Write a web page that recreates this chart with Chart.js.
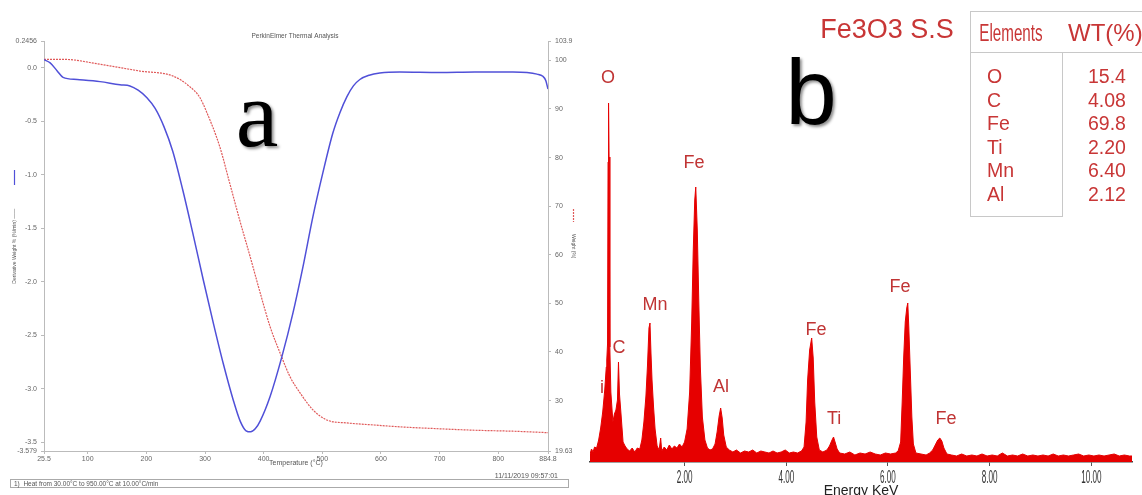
<!DOCTYPE html>
<html><head><meta charset="utf-8">
<script src="https://cdn.jsdelivr.net/npm/chart.js@4.4.1/dist/chart.umd.min.js"></script>
<style>
html,body{margin:0;padding:0;background:#fff;}
body{width:1142px;height:495px;position:relative;overflow:hidden;font-family:'Liberation Sans',Arial,sans-serif;}
#wa{position:absolute;left:0;top:0;width:590px;height:495px;}
#wb{position:absolute;left:585px;top:0;width:557px;height:495px;}
.abs{position:absolute;white-space:nowrap;}
.red{color:#c83636;}
</style></head><body>
<div id="wa"><canvas id="ca" width="590" height="495" style="width:590px;height:495px"></canvas></div>
<div id="wb"><canvas id="cb" width="557" height="495" style="width:557px;height:495px"></canvas></div>
<div class="abs" style="left:10px;top:479px;width:557px;height:7px;border:1px solid #aaa;font-size:6.5px;line-height:7px;color:#555;"><span style="padding-left:3px">1)&nbsp; Heat from 30.00°C to 950.00°C at 10.00°C/min</span></div>
<div class="abs" style="left:458px;top:472px;width:100px;text-align:right;font-size:7px;line-height:8px;color:#555;">11/11/2019 09:57:01</div>
<div id="tbl"></div>
<script>
// ---------- Panel a : TGA / DTG ----------
const dtgTemp = [25.5, 36, 48, 58, 82, 121, 155, 172, 186, 201, 215, 230, 245, 262, 279, 297, 314, 331, 348, 360, 370, 378, 386, 394, 411, 431, 450, 467, 484, 501, 518, 530, 542, 553, 564, 580, 598, 632, 700, 760, 825, 849, 866, 876, 881, 884.8];
const dtgDeriv = [0.075, 0.045, -0.03, -0.09, -0.11, -0.13, -0.16, -0.17, -0.21, -0.28, -0.38, -0.55, -0.78, -1.14, -1.54, -1.98, -2.38, -2.76, -3.10, -3.30, -3.39, -3.40, -3.37, -3.30, -3.07, -2.70, -2.29, -1.86, -1.39, -0.98, -0.61, -0.42, -0.27, -0.17, -0.11, -0.07, -0.05, -0.04, -0.045, -0.04, -0.04, -0.045, -0.06, -0.08, -0.12, -0.20];
const tgaTemp = [25.5, 60, 121, 189, 245, 274, 291, 303, 325, 342, 359, 377, 394, 411, 428, 445, 462, 484, 508, 542, 586, 632, 700, 760, 825, 884.8];
const tgaWeight = [100.2, 100.2, 99.2, 97.8, 96.8, 94.6, 92.4, 89.3, 82.3, 74.8, 67.2, 59.6, 52.2, 45.2, 39.8, 34.9, 31.6, 28.1, 26.0, 25.4, 25.0, 24.6, 24.2, 23.9, 23.7, 23.4];
const tempTicks = [25.5, 100, 200, 300, 400, 500, 600, 700, 800, 884.8];
const tempTickLabels = ['25.5','100','200','300','400','500','600','700','800','884.8'];
const derivTicks = [0.2456, 0, -0.5, -1, -1.5, -2, -2.5, -3, -3.5, -3.579];
const derivTickLabels = ['0.2456','0.0','-0.5','-1.0','-1.5','-2.0','-2.5','-3.0','-3.5','-3.579'];
const weightTicks = [103.9, 100, 90, 80, 70, 60, 50, 40, 30, 19.63];
const weightTickLabels = ['103.9','100','90','80','70','60','50','40','30','19.63'];

// ---------- Panel b : EDS ----------
const edsEnergy = [
 0.14,0.17,0.20,0.23,0.27,0.31,0.35,0.39,0.43,0.46,
 0.47,0.485,0.495,0.505,0.515,0.53,0.55,0.59,0.62,0.65,
 0.68,0.70,0.72,0.75,0.79,0.83,0.87,0.92,0.97,1.02,
 1.07,1.12,1.16,1.20,1.24,1.27,1.30,1.32,1.34,1.36,
 1.39,1.42,1.46,1.50,1.53,1.55,1.60,1.65,1.70,1.75,
 1.80,1.85,1.90,1.95,2.00,2.05,2.10,2.14,2.17,2.20,
 2.22,2.25,2.28,2.31,2.35,2.40,2.45,2.50,2.55,2.60,
 2.64,2.68,2.71,2.74,2.77,2.82,2.88,2.95,3.02,3.10,
 3.18,3.26,3.34,3.42,3.50,3.58,3.66,3.74,3.82,3.90,
 3.98,4.06,4.14,4.22,4.30,4.35,4.39,4.42,4.46,4.50,
 4.53,4.56,4.60,4.65,4.72,4.80,4.85,4.90,4.93,4.96,
 5.00,5.05,5.15,5.25,5.35,5.45,5.55,5.65,5.75,5.85,
 5.95,6.05,6.15,6.20,6.25,6.28,6.31,6.34,6.37,6.39,
 6.41,6.44,6.47,6.50,6.55,6.65,6.75,6.82,6.88,6.93,
 6.98,7.02,7.06,7.10,7.16,7.25,7.35,7.45,7.55,7.65,
 7.75,7.85,7.95,8.05,8.15,8.25,8.35,8.45,8.55,8.65,
 8.75,8.85,8.95,9.05,9.15,9.25,9.35,9.45,9.55,9.65,
 9.75,9.85,9.95,10.05,10.15,10.25,10.35,10.45,10.55,10.65,
 10.75,10.8];
const edsCounts = [
 8,13,10,15,14,22,34,50,72,95,
 102,118,300,359,305,115,70,40,48,52,
 62,100,68,48,20,16,13,11,14,10,
 14,13,22,40,66,96,134,139,108,82,
 55,33,16,12,24,11,15,12,17,13,
 16,14,18,15,20,33,70,140,210,262,
 275,232,160,95,45,22,14,12,13,18,
 30,46,54,44,27,15,12,10,12,9,
 11,10,12,9,11,10,9,11,9,10,
 12,9,10,9,11,15,40,82,112,124,
 104,60,25,12,10,12,16,22,25,20,
 13,9,8,10,7,9,8,10,8,7,
 9,8,9,11,20,60,105,140,154,159,
 135,90,45,18,9,8,7,9,12,17,
 22,24,21,14,8,7,6,8,6,7,
 6,8,6,7,6,9,6,7,6,8,
 6,7,6,7,6,8,6,7,6,7,
 8,6,7,6,7,6,7,8,6,7,
 6,6];
const energyTicks = [2, 4, 6, 8, 10];
const energyTickLabels = ['2.00','4.00','6.00','8.00','10.00'];
const peakNames = ['i','O','C','Mn','Fe','Al','Fe','Ti','Fe','Fe'];
const peakLabelEnergy = [0.376, 0.494, 0.71, 1.42, 2.186, 2.717, 4.585, 4.94, 6.237, 7.14];
const peakLabelLevel = [74, 384, 114, 157, 299, 75, 132, 43, 175, 43];
const tableElements = ['O','C','Fe','Ti','Mn','Al'];
const tableWt = ['15.4','4.08','69.8','2.20','6.40','2.12'];

const SANS = "'Liberation Sans', Arial, sans-serif";
const small = {family: SANS, size: 7};

// ----- chart a -----
const panelAExtras = {
  id: 'panelAExtras',
  afterDraw(chart) {
    const ctx = chart.ctx;
    ctx.save();
    ctx.strokeStyle = '#5050d8'; ctx.lineWidth = 1.2;
    ctx.beginPath(); ctx.moveTo(14.5, 170); ctx.lineTo(14.5, 185); ctx.stroke();
    ctx.strokeStyle = '#e05a5a'; ctx.setLineDash([2, 1]);
    ctx.beginPath(); ctx.moveTo(573.5, 209); ctx.lineTo(573.5, 222); ctx.stroke();
    ctx.setLineDash([]);
    ctx.font = "96px 'Liberation Serif', 'DejaVu Serif', serif";
    ctx.textAlign = 'center'; ctx.textBaseline = 'alphabetic';
    ctx.shadowColor = 'rgba(0,0,0,0.45)'; ctx.shadowOffsetX = 2; ctx.shadowOffsetY = 2; ctx.shadowBlur = 3;
    ctx.fillStyle = '#000';
    ctx.fillText('a', 257, 146);
    ctx.restore();
  }
};

new Chart(document.getElementById('ca'), {
  type: 'line',
  data: { datasets: [
    { label: 'Derivative Weight % (%/min)', data: dtgTemp.map((t, i) => ({x: t, y: dtgDeriv[i]})),
      xAxisID: 'x', yAxisID: 'y', borderColor: '#5050d8', borderWidth: 1.5, pointRadius: 0,
      cubicInterpolationMode: 'monotone', fill: false },
    { label: 'Weight (%)', data: tgaTemp.map((t, i) => ({x: t, y: tgaWeight[i]})),
      xAxisID: 'x', yAxisID: 'y1', borderColor: '#e05a5a', borderWidth: 1.2, borderDash: [2, 1], pointRadius: 0,
      cubicInterpolationMode: 'monotone', fill: false }
  ]},
  options: {
    responsive: false, animation: false,
    layout: { padding: {top: 0, left: 0, right: 0, bottom: 0} },
    plugins: {
      legend: {display: false}, tooltip: {enabled: false},
      title: { display: true, text: 'PerkinElmer Thermal Analysis', color: '#555',
        font: {family: SANS, size: 6.5, weight: 'normal'}, padding: {top: 32, bottom: 1.6} }
    },
    scales: {
      x: { type: 'linear', position: 'bottom', min: 25.5, max: 884.8,
        afterBuildTicks: s => { s.ticks = tempTicks.map(v => ({value: v})); },
        afterFit: s => { s.height = 44; },
        ticks: { autoSkip: false, maxRotation: 0, padding: 1, font: small, color: '#666',
          callback: (v, i) => tempTickLabels[i] },
        grid: { drawOnChartArea: false, tickLength: 3, color: '#bbb' },
        border: { color: '#bbb' },
        title: { display: true, text: 'Temperature (°C)', font: small, color: '#555', padding: {top: 0, bottom: 27.8} } },
      y: { type: 'linear', position: 'left', min: -3.579, max: 0.2456,
        afterBuildTicks: s => { s.ticks = derivTicks.map(v => ({value: v})); },
        afterFit: s => { s.width = 44; },
        ticks: { autoSkip: false, padding: 4, font: small, color: '#666',
          callback: (v, i) => derivTickLabels[i] },
        grid: { drawOnChartArea: false, tickLength: 3, color: '#bbb' },
        border: { color: '#bbb' },
        title: { display: true, text: 'Derivative Weight % (%/min) ——', font: {family: SANS, size: 5}, color: '#555', padding: {top: 12, bottom: 0} } },
      y1: { type: 'linear', position: 'right', min: 19.63, max: 103.9,
        afterBuildTicks: s => { s.ticks = weightTicks.map(v => ({value: v})); },
        afterFit: s => { s.width = 42; },
        ticks: { autoSkip: false, padding: 4, font: small, color: '#666',
          callback: (v, i) => weightTickLabels[i] },
        grid: { drawOnChartArea: false, tickLength: 3, color: '#bbb' },
        border: { color: '#bbb' },
        title: { display: true, text: 'Weight (%)', font: {family: SANS, size: 5}, color: '#555', padding: {top: 14, bottom: 0} } }
    }
  },
  plugins: [panelAExtras]
});

// ----- chart b -----
const panelBExtras = {
  id: 'panelBExtras',
  afterDraw(chart) {
    const ctx = chart.ctx, xs = chart.scales.x, ys = chart.scales.y;
    ctx.save();
    // condensed tick labels
    ctx.fillStyle = '#333'; ctx.textAlign = 'center'; ctx.textBaseline = 'middle';
    ctx.font = "18px " + SANS;
    energyTicks.forEach((v, i) => {
      ctx.save(); ctx.translate(xs.getPixelForValue(v), 478); ctx.scale(0.45, 1);
      ctx.fillText(energyTickLabels[i], 0, 0); ctx.restore();
    });
    // peak labels
    ctx.fillStyle = '#c03434'; ctx.font = "18px " + SANS;
    peakNames.forEach((n, i) => {
      ctx.fillText(n, xs.getPixelForValue(peakLabelEnergy[i]), ys.getPixelForValue(peakLabelLevel[i]));
    });
    // sample name
    ctx.fillStyle = '#c83636'; ctx.font = "27px " + SANS;
    ctx.fillText('Fe3O3 S.S', 302, 31);
    // panel letter
    ctx.fillStyle = '#000'; ctx.font = "92px " + SANS; ctx.textBaseline = 'alphabetic';
    ctx.shadowColor = 'rgba(0,0,0,0.45)'; ctx.shadowOffsetX = 2; ctx.shadowOffsetY = 2; ctx.shadowBlur = 3;
    ctx.fillText('b', 226, 124);
    ctx.restore();
  }
};

new Chart(document.getElementById('cb'), {
  type: 'line',
  data: { datasets: [{ label: 'Fe3O3 S.S', data: edsEnergy.map((e, i) => ({x: e, y: edsCounts[i]})),
    borderColor: '#e60000', backgroundColor: '#e60000', borderWidth: 1, pointRadius: 0, fill: 'origin', tension: 0 }] },
  options: {
    responsive: false, animation: false,
    layout: { padding: {left: 5, right: 10, top: 62, bottom: 0} },
    plugins: { legend: {display: false}, tooltip: {enabled: false} },
    scales: {
      x: { type: 'linear', min: 0.14, max: 10.8,
        afterBuildTicks: s => { s.ticks = energyTicks.map(v => ({value: v})); },
        afterFit: s => { s.height = 33; },
        ticks: { display: false },
        grid: { drawOnChartArea: false, tickLength: 4, color: '#555' },
        border: { color: '#444', width: 1.5 },
        title: { display: true, text: 'Energy KeV', font: {family: SANS, size: 14}, color: '#222', padding: {top: 0, bottom: -5} } },
      y: { display: false, min: 0, max: 400 }
    }
  },
  plugins: [panelBExtras]
});

// ----- table -----
(function(){
  const t = document.getElementById('tbl');
  let h = '';
  h += '<div class="abs" style="left:970px;top:11px;width:190px;height:40px;border:1px solid #c8c8c8;"></div>';
  h += '<div class="abs" style="left:970px;top:52px;width:91px;height:164px;border:1px solid #c8c8c8;border-top:none;"></div>';
  h += '<div class="abs red" style="left:960px;top:21px;width:102px;text-align:center;font-size:23px;line-height:24px;"><span style="display:inline-block;transform:scaleX(0.66);">Elements</span></div>';
  h += '<div class="abs red" style="left:1068px;top:21px;font-size:24px;line-height:24px;">WT(%)</div>';
  tableElements.forEach((el, i) => {
    const cy = 76 + i * 23.5;
    h += '<div class="abs red" style="left:987px;top:' + (cy - 12) + 'px;font-size:19.5px;line-height:24px;">' + el + '</div>';
    h += '<div class="abs red" style="left:1067px;width:80px;text-align:center;top:' + (cy - 12) + 'px;font-size:19.5px;line-height:24px;">' + tableWt[i] + '</div>';
  });
  t.innerHTML = h;
})();
</script>
</body></html>
